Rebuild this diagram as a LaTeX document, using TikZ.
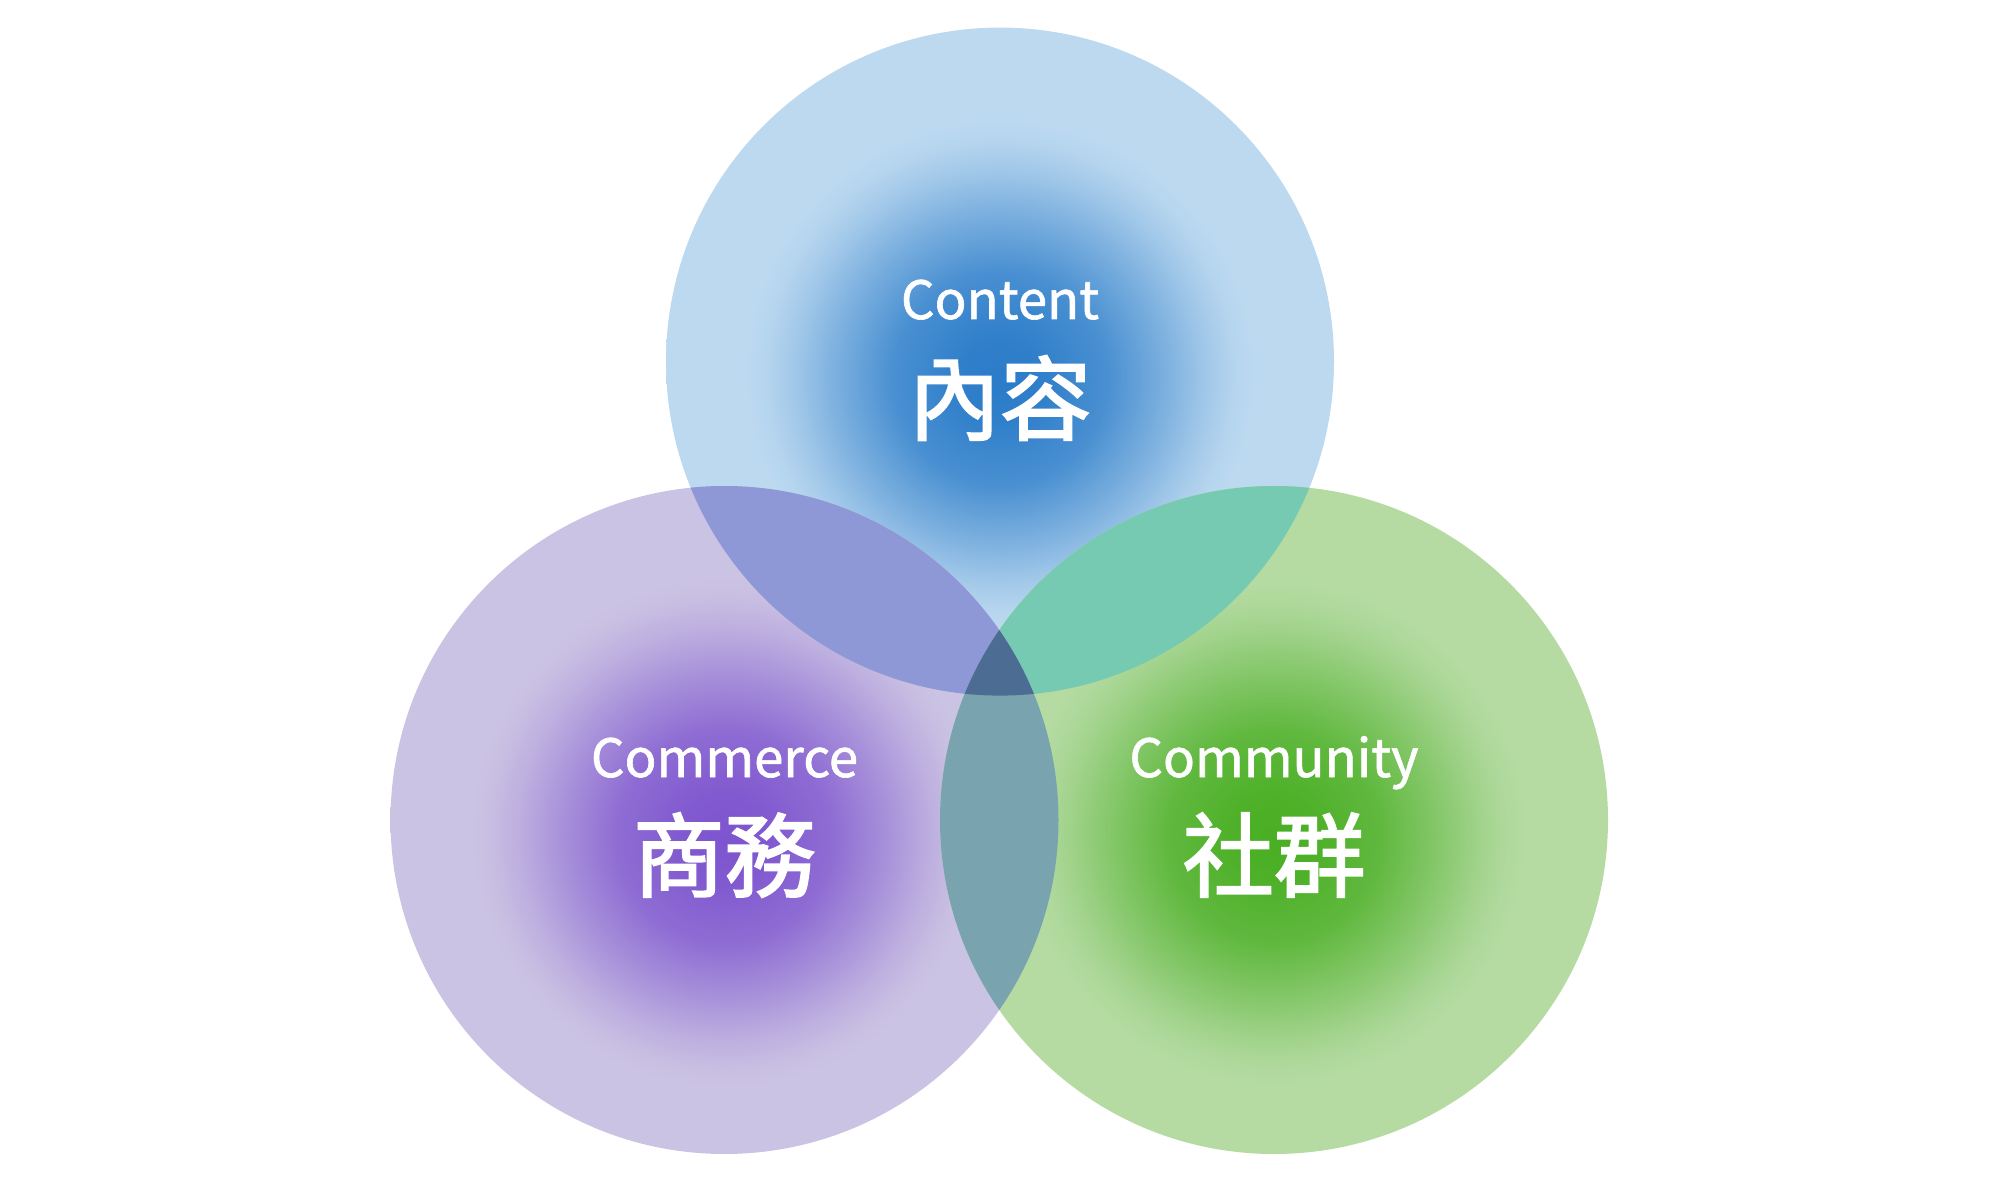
\documentclass[tikz,border=0pt]{standalone}
\usepackage{fontspec}
\setmainfont{Noto Sans CJK TC}
\newfontfamily\enfont{Noto Sans CJK TC}[FakeBold=1.2]
\newfontfamily\zhfont{Noto Sans CJK TC}[FakeBold=2.2]
\usetikzlibrary{shadings}
\definecolor{bluec}{HTML}{2B7CC9}
\definecolor{bluee}{HTML}{BCD9F0}
\definecolor{purc}{HTML}{7E55CF}
\definecolor{pure}{HTML}{CBC3E3}
\definecolor{grnc}{HTML}{4AAF24}
\definecolor{grne}{HTML}{B5DBA3}
\definecolor{bp}{HTML}{8E98D6}
\definecolor{bg}{HTML}{76CAB2}
\definecolor{pg}{HTML}{7AA3B0}
\definecolor{bpg}{HTML}{4C6C94}
\newcommand\mkshade[3]{\pgfdeclareradialshading{#1}{\pgfpoint{0bp}{-1.5bp}}{color(0bp)=(#2); color(3bp)=(#2!97!#3); color(8bp)=(#2!79!#3); color(12.5bp)=(#2!43!#3); color(15.5bp)=(#2!18!#3); color(17.5bp)=(#2!5!#3); color(19bp)=(#3); color(50bp)=(#3)}}
\mkshade{blueshade}{bluec}{bluee}
\mkshade{purshade}{purc}{pure}
\mkshade{grnshade}{grnc}{grne}
\tikzset{
  en/.style={text=white, font=\enfont\fontsize{15}{18}\selectfont, inner sep=0pt, anchor=base},
  zh/.style={text=white, font=\zhfont\fontsize{26}{30}\selectfont, inner sep=0pt}
}
\begin{document}
\begin{tikzpicture}
\useasboundingbox (0,0) rectangle (20,12);
\def\R{3.34}
\coordinate (T) at (10.00,8.384);
\coordinate (L) at (7.245,3.80);
\coordinate (Rt) at (12.74,3.80);
\shade[shading=blueshade] (T) circle (\R);
\shade[shading=purshade] (L) circle (\R);
\shade[shading=grnshade] (Rt) circle (\R);
\begin{scope}\clip (T) circle (\R); \fill[bp] (L) circle (\R);\end{scope}
\begin{scope}\clip (T) circle (\R); \fill[bg] (Rt) circle (\R);\end{scope}
\begin{scope}\clip (L) circle (\R); \fill[pg] (Rt) circle (\R);\end{scope}
\begin{scope}\clip (T) circle (\R); \clip (L) circle (\R); \fill[bpg] (Rt) circle (\R);\end{scope}
\node[en] (t1) at (10.00,8.81) {Content};
\node[zh] (t2) at (10.00,8.02) {內容};
\node[en] (l1) at (7.245,4.23) {Commerce};
\node[zh] (l2) at (7.245,3.45) {商務};
\node[en] (r1) at (12.74,4.23) {Community};
\node[zh] (r2) at (12.74,3.45) {社群};
\end{tikzpicture}
\end{document}
